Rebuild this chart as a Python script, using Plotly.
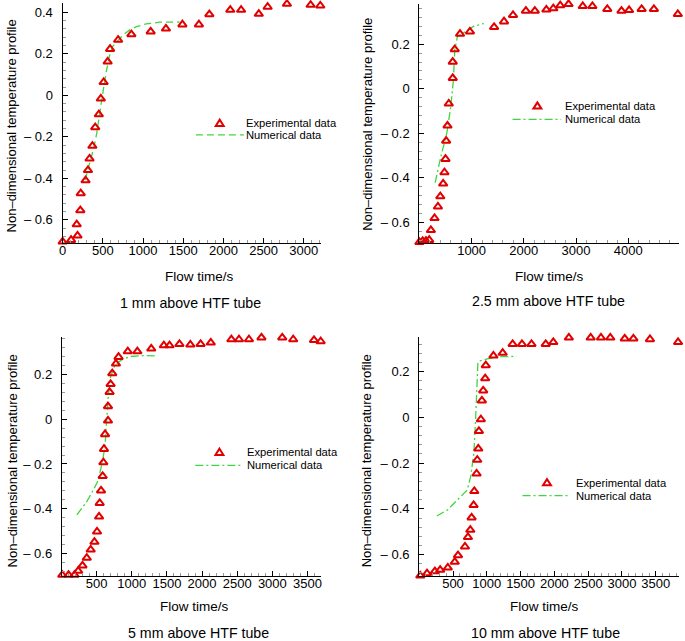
import numpy as np
import plotly.graph_objects as go

# ---------------- data ----------------
# Panel 1: 1 mm above HTF tube
p1_exp_x = [0, 105, 185, 175, 220, 225, 285, 315, 335, 370, 405, 450, 475, 510, 560, 590, 690, 855,
            1095, 1285, 1490, 1695, 1825, 2085, 2220, 2440, 2550, 2790, 3085, 3205]
p1_exp_y = [-0.705, -0.697, -0.676, -0.622, -0.554, -0.472, -0.410, -0.361, -0.305, -0.244, -0.154,
            -0.092, -0.016, 0.063, 0.162, 0.223, 0.267, 0.294, 0.307, 0.321, 0.341, 0.341, 0.390,
            0.411, 0.411, 0.392, 0.426, 0.440, 0.435, 0.432]
p1_num_x = [280, 350, 391, 424, 465, 506, 547, 580, 621, 691, 753, 835, 918, 1041, 1206, 1453]
p1_num_y = [-0.408, -0.312, -0.247, -0.183, -0.071, 0.026, 0.122, 0.186, 0.235, 0.267, 0.291, 0.315,
            0.331, 0.344, 0.352, 0.353]

# Panel 2: 2.5 mm above HTF tube
p2_exp_x = [0, 63, 125, 188, 220, 290, 355, 400, 455, 480, 500, 512, 538, 563, 639, 639, 677, 778,
            968, 1431, 1621, 1793, 2040, 2211, 2432, 2565, 2698, 2857, 3129, 3314, 3599, 3871, 4017,
            4257, 4492, 4950]
p2_exp_y = [-0.690, -0.685, -0.684, -0.680, -0.636, -0.582, -0.530, -0.484, -0.427, -0.376, -0.316,
            -0.234, -0.166, -0.067, 0.048, 0.121, 0.177, 0.246, 0.257, 0.277, 0.302, 0.331, 0.350,
            0.350, 0.355, 0.361, 0.374, 0.380, 0.371, 0.371, 0.358, 0.350, 0.353, 0.358, 0.358, 0.335]
p2_num_x = [302, 411, 525, 601, 652, 677, 728, 918, 1044, 1234]
p2_num_y = [-0.422, -0.305, -0.200, -0.081, 0.039, 0.174, 0.234, 0.263, 0.281, 0.293]

# Panel 3: 5 mm above HTF tube
p3_exp_x = [10, 100, 185, 237, 298, 359, 415, 468, 505, 534, 543, 562, 585, 595, 604, 619, 661, 661,
            684, 698, 722, 774, 811, 943, 1079, 1277, 1456, 1537, 1678, 1833, 1979, 2124, 2417, 2525,
            2667, 2845, 3141, 3297, 3593, 3688]
p3_exp_y = [-0.697, -0.697, -0.697, -0.679, -0.655, -0.621, -0.584, -0.549, -0.503, -0.436, -0.375,
            -0.319, -0.254, -0.193, -0.133, -0.067, -0.006, 0.058, 0.122, 0.158, 0.206, 0.249, 0.279,
            0.304, 0.304, 0.316, 0.331, 0.331, 0.337, 0.334, 0.337, 0.343, 0.358, 0.358, 0.358, 0.366,
            0.366, 0.358, 0.355, 0.349]
p3_num_x = [218, 359, 453, 524, 576, 619, 642, 665, 698, 760, 853, 971, 1160, 1347]
p3_num_y = [-0.428, -0.369, -0.316, -0.272, -0.197, -0.122, -0.003, 0.101, 0.191, 0.243, 0.266,
            0.281, 0.285, 0.284]

# Panel 4: 10 mm above HTF tube
p4_exp_x = [16, 115, 232, 310, 423, 526, 574, 677, 721, 756, 775, 805, 815, 849, 859, 874, 883, 912,
            927, 947, 976, 985, 1098, 1235, 1382, 1520, 1661, 1872, 1984, 2214, 2537, 2689, 2827,
            3041, 3169, 3414, 3830]
p4_exp_y = [-0.692, -0.682, -0.673, -0.667, -0.657, -0.632, -0.603, -0.565, -0.524, -0.492, -0.438,
            -0.384, -0.323, -0.246, -0.186, -0.137, -0.060, -0.009, 0.073, 0.117, 0.170, 0.227,
            0.269, 0.281, 0.320, 0.320, 0.320, 0.320, 0.328, 0.348, 0.348, 0.348, 0.348, 0.344,
            0.344, 0.341, 0.328]
p4_num_x = [261, 418, 565, 712, 761, 809, 834, 852, 868, 883, 1006, 1200, 1440]
p4_num_y = [-0.431, -0.405, -0.361, -0.317, -0.259, -0.157, -0.012, 0.134, 0.236, 0.245, 0.255,
            0.265, 0.266]

subtitles = ["1 mm above HTF tube", "2.5 mm above HTF tube", "5 mm above HTF tube", "10 mm above HTF tube"]
x_title = "Flow time/s"
y_title = "Non\u2013dimensional temperature profile"
legend_labels = ["Experimental data", "Numerical data"]

y_tickvals = [0.4, 0.2, 0.0, -0.2, -0.4, -0.6]
y_ticktext = ["0.4", "0.2", "0", "\u2013 0.2", "\u2013 0.4", "\u2013 0.6"]
x_tickvals_p1 = [0, 500, 1000, 1500, 2000, 2500, 3000]
x_tickvals_p2 = [1000, 2000, 3000, 4000]
x_tickvals_p34 = [500, 1000, 1500, 2000, 2500, 3000, 3500]

# ---------------- geometry (pixels in the 685x641 window) ----------------
W, H = 685, 641
FONT = "Liberation Sans, Arial, Helvetica, sans-serif"
RED = "#e00000"
GREEN = "rgb(60,215,60)"

# L, R, T, B pixel edges, x zero pixel, px per x unit, y zero pixel, px per y unit
panels = [
    dict(L=59, R=319.7, T=3.4, B=243, x0=59, xs=0.081, y0=95.3, ys=207.6, xt=x_tickvals_p1, xminor=100,
         dash="7px,4px", xtitle=(197, 276), sub=(187.5, 303.5), ytitle=(8.5, 126),
         leg=dict(tri=(217.3, 123.3), line=(193.3, 241.7, 134.8), tx=241.8)),
    dict(L=418.4, R=679.6, T=3.6, B=243, x0=418.4, xs=0.0526, y0=88.7, ys=222.5, xt=x_tickvals_p2, xminor=200,
         dash="8px,3px,2px,3px", xtitle=(550, 276), sub=(548, 300.5), ytitle=(365.5, 124),
         leg=dict(tri=(537.3, 106), line=(512.3, 561.3, 119.3), tx=562.8)),
    dict(L=58.3, R=319.6, T=337, B=576, x0=57.9, xs=0.0708, y0=419.3, ys=223.3, xt=x_tickvals_p34, xminor=100,
         dash="8px,3px,2px,3px", xtitle=(191.7, 606), sub=(196, 633.3), ytitle=(8.5, 461),
         leg=dict(tri=(217, 452.3), line=(192.7, 240.7, 465.3), tx=243.2)),
    dict(L=418.3, R=679.6, T=337, B=576.4, x0=418.2, xs=0.0681, y0=417.3, ys=228.9, xt=x_tickvals_p34, xminor=100,
         dash="8px,3px,2px,3px", xtitle=(544, 606), sub=(545, 633.3), ytitle=(365, 461),
         leg=dict(tri=(547, 482.7), line=(522.3, 570.7, 495.7), tx=574.2)),
]
series = [
    (p1_exp_x, p1_exp_y, p1_num_x, p1_num_y),
    (p2_exp_x, p2_exp_y, p2_num_x, p2_num_y),
    (p3_exp_x, p3_exp_y, p3_num_x, p3_num_y),
    (p4_exp_x, p4_exp_y, p4_num_x, p4_num_y),
]


def px(p):
    return p / W


def py(p):
    return 1 - p / H


fig = go.Figure()
layout = dict(width=W, height=H, autosize=False, margin=dict(l=0, r=0, t=0, b=0, pad=0),
              paper_bgcolor="white", plot_bgcolor="white", showlegend=False,
              font=dict(family=FONT, size=13, color="black"))
annotations = []
shapes = []

for i, (pn, (ex, ey, nx, ny)) in enumerate(zip(panels, series)):
    k = "" if i == 0 else str(i + 1)
    xa, ya = "x" + k, "y" + k
    xr = [(pn["L"] - pn["x0"]) / pn["xs"] - 1, (pn["R"] - pn["x0"]) / pn["xs"]]
    yr = [(pn["y0"] - pn["B"]) / pn["ys"], (pn["y0"] - pn["T"]) / pn["ys"]]
    xminor_vals = list(np.arange(0, 5001, pn["xminor"]))
    yminor_vals = list(np.round(np.arange(-0.8, 0.5, 0.04), 3))
    layout["xaxis" + k] = dict(
        domain=[px(pn["L"]), px(pn["R"])], range=xr, anchor=ya,
        showline=True, linecolor="black", linewidth=1.2, showgrid=False, zeroline=False,
        ticks="inside", ticklen=5, tickwidth=1, tickcolor="black",
        tickmode="array", tickvals=pn["xt"], ticktext=[str(v) for v in pn["xt"]],
        tickfont=dict(size=13, family=FONT), ticklabelstandoff=-5,
        minor=dict(ticks="inside", ticklen=3, tickwidth=1, tickcolor="#999999",
                   tickmode="array", tickvals=xminor_vals, showgrid=False),
    )
    layout["yaxis" + k] = dict(
        domain=[py(pn["B"]), py(pn["T"])], range=yr, anchor=xa,
        showline=True, linecolor="black", linewidth=1.2, showgrid=False, zeroline=False,
        ticks="inside", ticklen=5, tickwidth=1, tickcolor="black",
        tickmode="array", tickvals=y_tickvals, ticktext=y_ticktext,
        tickfont=dict(size=13, family=FONT), ticklabelstandoff=6,
        minor=dict(ticks="inside", ticklen=3, tickwidth=1, tickcolor="#999999",
                   tickmode="array", tickvals=yminor_vals, showgrid=False),
    )
    fig.add_trace(go.Scatter(x=nx, y=ny, mode="lines", xaxis=xa, yaxis=ya,
                             line=dict(color=GREEN, width=1.3, dash=pn["dash"]),
                             name=legend_labels[1]))
    fig.add_trace(go.Scatter(x=ex, y=ey, mode="markers", xaxis=xa, yaxis=ya, cliponaxis=False,
                             marker=dict(symbol="triangle-up-open", size=7.5, color=RED,
                                         line=dict(color=RED, width=2)),
                             name=legend_labels[0]))

    # axis titles and subtitle
    annotations.append(dict(text=x_title, x=px(pn["xtitle"][0]), y=py(pn["xtitle"][1]),
                            xref="paper", yref="paper", showarrow=False,
                            xanchor="center", yanchor="middle", font=dict(size=13.5)))
    annotations.append(dict(text=subtitles[i], x=px(pn["sub"][0]), y=py(pn["sub"][1]),
                            xref="paper", yref="paper", showarrow=False,
                            xanchor="center", yanchor="middle", font=dict(size=14.2)))
    annotations.append(dict(text=y_title, x=px(pn["ytitle"][0]), y=py(pn["ytitle"][1]),
                            xref="paper", yref="paper", showarrow=False, textangle=-90,
                            xanchor="center", yanchor="middle", font=dict(size=13)))

    # manual legend
    lg = pn["leg"]
    cx, cy = lg["tri"]
    tri = [(cx - 4, cy + 2.6), (cx + 4, cy + 2.6), (cx, cy - 3.6)]
    path = "M {},{} L {},{} L {},{} Z".format(px(tri[0][0]), py(tri[0][1]), px(tri[1][0]), py(tri[1][1]),
                                              px(tri[2][0]), py(tri[2][1]))
    shapes.append(dict(type="path", path=path, xref="paper", yref="paper",
                       line=dict(color=RED, width=2), fillcolor="rgba(0,0,0,0)"))
    x1, x2, ly = lg["line"]
    shapes.append(dict(type="line", x0=px(x1), x1=px(x2), y0=py(ly), y1=py(ly), xref="paper", yref="paper",
                       line=dict(color=GREEN, width=1.3, dash=pn["dash"])))
    annotations.append(dict(text=legend_labels[0], x=px(lg["tx"]), y=py(cy), xref="paper", yref="paper",
                            showarrow=False, xanchor="left", yanchor="middle", font=dict(size=11.2)))
    annotations.append(dict(text=legend_labels[1], x=px(lg["tx"]), y=py(ly), xref="paper", yref="paper",
                            showarrow=False, xanchor="left", yanchor="middle", font=dict(size=11.2)))

layout["annotations"] = annotations
layout["shapes"] = shapes
fig.update_layout(**layout)
# remove the browser's default 8px page margin so the figure sits at the window's top-left corner
fig.write_html("out.html", config={"displayModeBar": False},
               post_script="document.body.style.margin='0px';")
